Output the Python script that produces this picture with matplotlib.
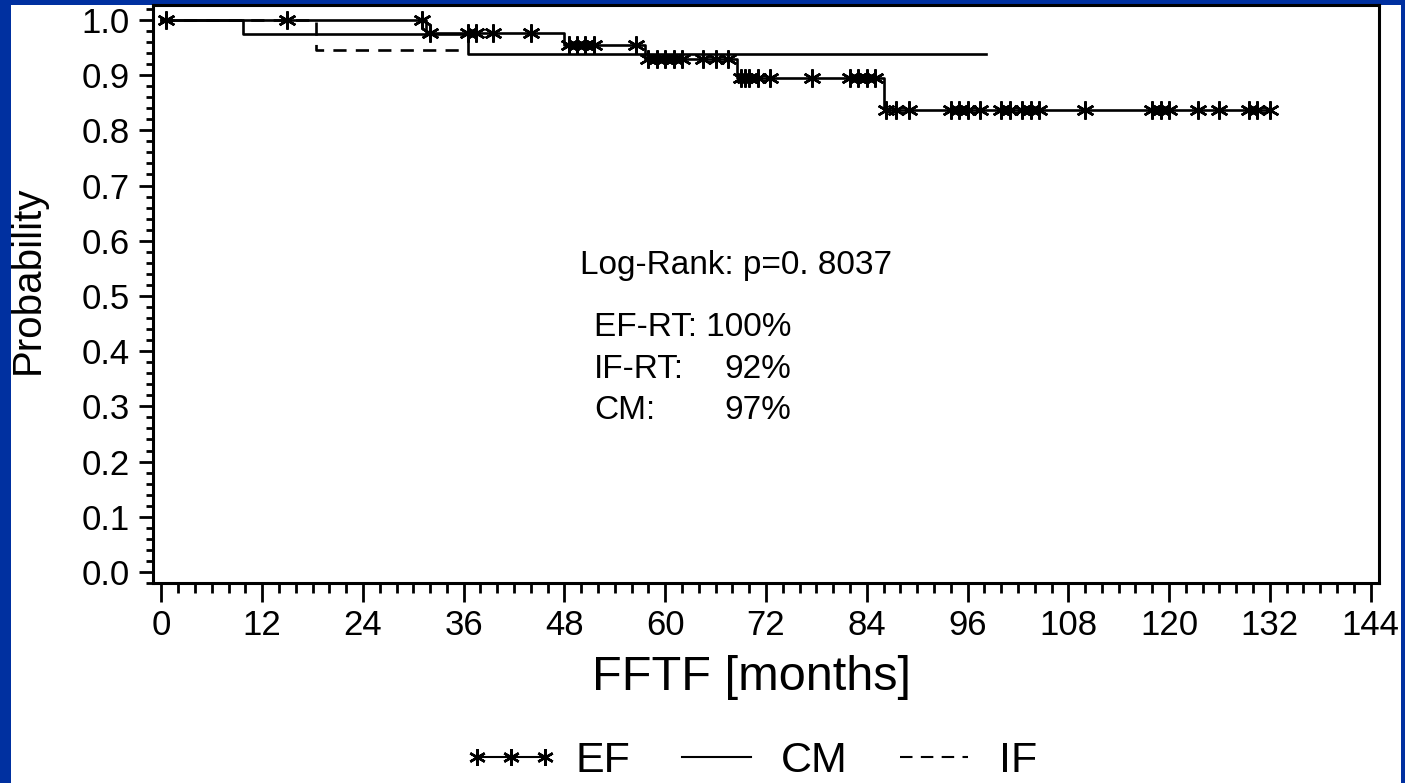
import numpy as np
import matplotlib
matplotlib.use("Agg")
from matplotlib import pyplot as plt
from matplotlib.lines import Line2D
from matplotlib.patches import Rectangle
from matplotlib.ticker import MultipleLocator

plt.rcParams['font.family'] = ['Liberation Sans', 'DejaVu Sans']

# Kaplan-Meier steps (time in months, survival after the step)
ef_times = [0, 31.5, 48.0, 57.6, 68.6, 86.0, 132.0]
ef_surv = [1.0, 0.977, 0.954, 0.929, 0.894, 0.836, 0.836]
ef_censored = [0.5, 15, 31, 32, 36.5, 37.5, 39.5, 44, 48.5, 49.5, 50.5, 51.5, 56.5,
               58, 59, 60, 61, 62, 64.5, 66, 67.5, 69, 69.5, 70, 71, 72.5, 77.5,
               82, 83, 84, 85, 86.3, 87.5, 89, 94, 95, 96, 97.5, 100, 101, 102.5,
               103.5, 104.5, 110, 118, 119, 120, 123.5, 126, 129.5, 130.5, 132]

cm_times = [0, 9.7, 36.5, 98.2]
cm_surv = [1.0, 0.975, 0.938, 0.938]

if_times = [0, 18.4, 36.2]
if_surv = [1.0, 0.946, 0.946]

notes = [("EF-RT:", "100%"), ("IF-RT:", "92%"), ("CM:", "97%")]
logrank = "Log-Rank: p=0. 8037"

blue = '#0030A0'
W, H = 1405, 783
fig = plt.figure(figsize=(W / 100, H / 100), dpi=100, facecolor=blue)
fig.patches.append(Rectangle((11 / W, 0), (1401 - 11) / W, (H - 5) / H,
                             transform=fig.transFigure, facecolor='white',
                             edgecolor='none', zorder=-1))
ax = fig.add_axes([153 / W, (H - 583) / H, (1379 - 153) / W, (583 - 5) / H])
ax.set_zorder(1)

lw = 1.9
dash = (0, (5, 3.5))
ax.step(cm_times, cm_surv, where='post', color='black', lw=lw)
ax.step(if_times, if_surv, where='post', color='black', lw=lw, linestyle=dash)
ax.step(ef_times, ef_surv, where='post', color='black', lw=lw)

# censor marks sit on the EF curve
idx = np.searchsorted(ef_times, ef_censored, side='right') - 1
cens_y = np.array(ef_surv)[idx]
star = (6, 2, 0)
ax.plot(ef_censored, cens_y, linestyle='none', marker=star, markersize=13,
        markeredgewidth=1.8, color='black')

ax.set_xlim(-1, 145)
ax.set_ylim(-0.02, 1.027)
ax.xaxis.set_major_locator(MultipleLocator(12))
ax.xaxis.set_minor_locator(MultipleLocator(2))
ax.yaxis.set_minor_locator(MultipleLocator(0.02))
ax.set_yticks(np.arange(0, 1.01, 0.1))
ax.set_yticklabels([f"{v:.1f}" for v in np.arange(0, 1.01, 0.1)])

for s in ax.spines.values():
    s.set_linewidth(2.2)
ax.tick_params(axis='both', which='both', direction='out', width=2, colors='black')
ax.tick_params(axis='x', which='major', length=14, labelsize=25, pad=5)
ax.tick_params(axis='x', which='minor', length=7)
ax.tick_params(axis='y', which='major', length=10, labelsize=25, pad=7)
ax.tick_params(axis='y', which='minor', length=5)

ax.set_xlabel("FFTF [months]", fontsize=35)
ax.xaxis.set_label_coords(0.488, -0.125)
ax.set_ylabel("Probability", fontsize=29)
ax.yaxis.set_label_coords(-0.087, 0.525)

fs_note = 24
ax.text(49.9, 0.555, logrank, fontsize=fs_note, va='center', ha='left')
# first row written in one piece; the other percentages line up with its end
first = ax.text(51.5, 0.442, f"{notes[0][0]} {notes[0][1]}", fontsize=fs_note,
                va='center', ha='left')
fig.canvas.draw()
right_x = first.get_window_extent().transformed(ax.transData.inverted()).x1
for i, (lab, val) in enumerate(notes[1:], start=1):
    y = 0.442 - i * 0.075
    ax.text(51.5, y, lab, fontsize=fs_note, va='center', ha='left')
    ax.text(right_x, y, val, fontsize=fs_note, va='center', ha='right')

handles = [Line2D([], [], color='black', lw=1.5, marker=star, markersize=12,
                  markeredgewidth=1.8),
           Line2D([], [], color='black', lw=1.5),
           Line2D([], [], color='black', lw=1.5, linestyle=(0, (6, 4)))]
fig.legend(handles, ["EF", "CM", "IF"], loc='center', bbox_to_anchor=(0.534, 22 / H),
           ncol=3, frameon=False, fontsize=31, numpoints=3, handlelength=2.2,
           handletextpad=0.4, columnspacing=0.9)

fig.savefig("out.png", dpi=100, facecolor=blue)
